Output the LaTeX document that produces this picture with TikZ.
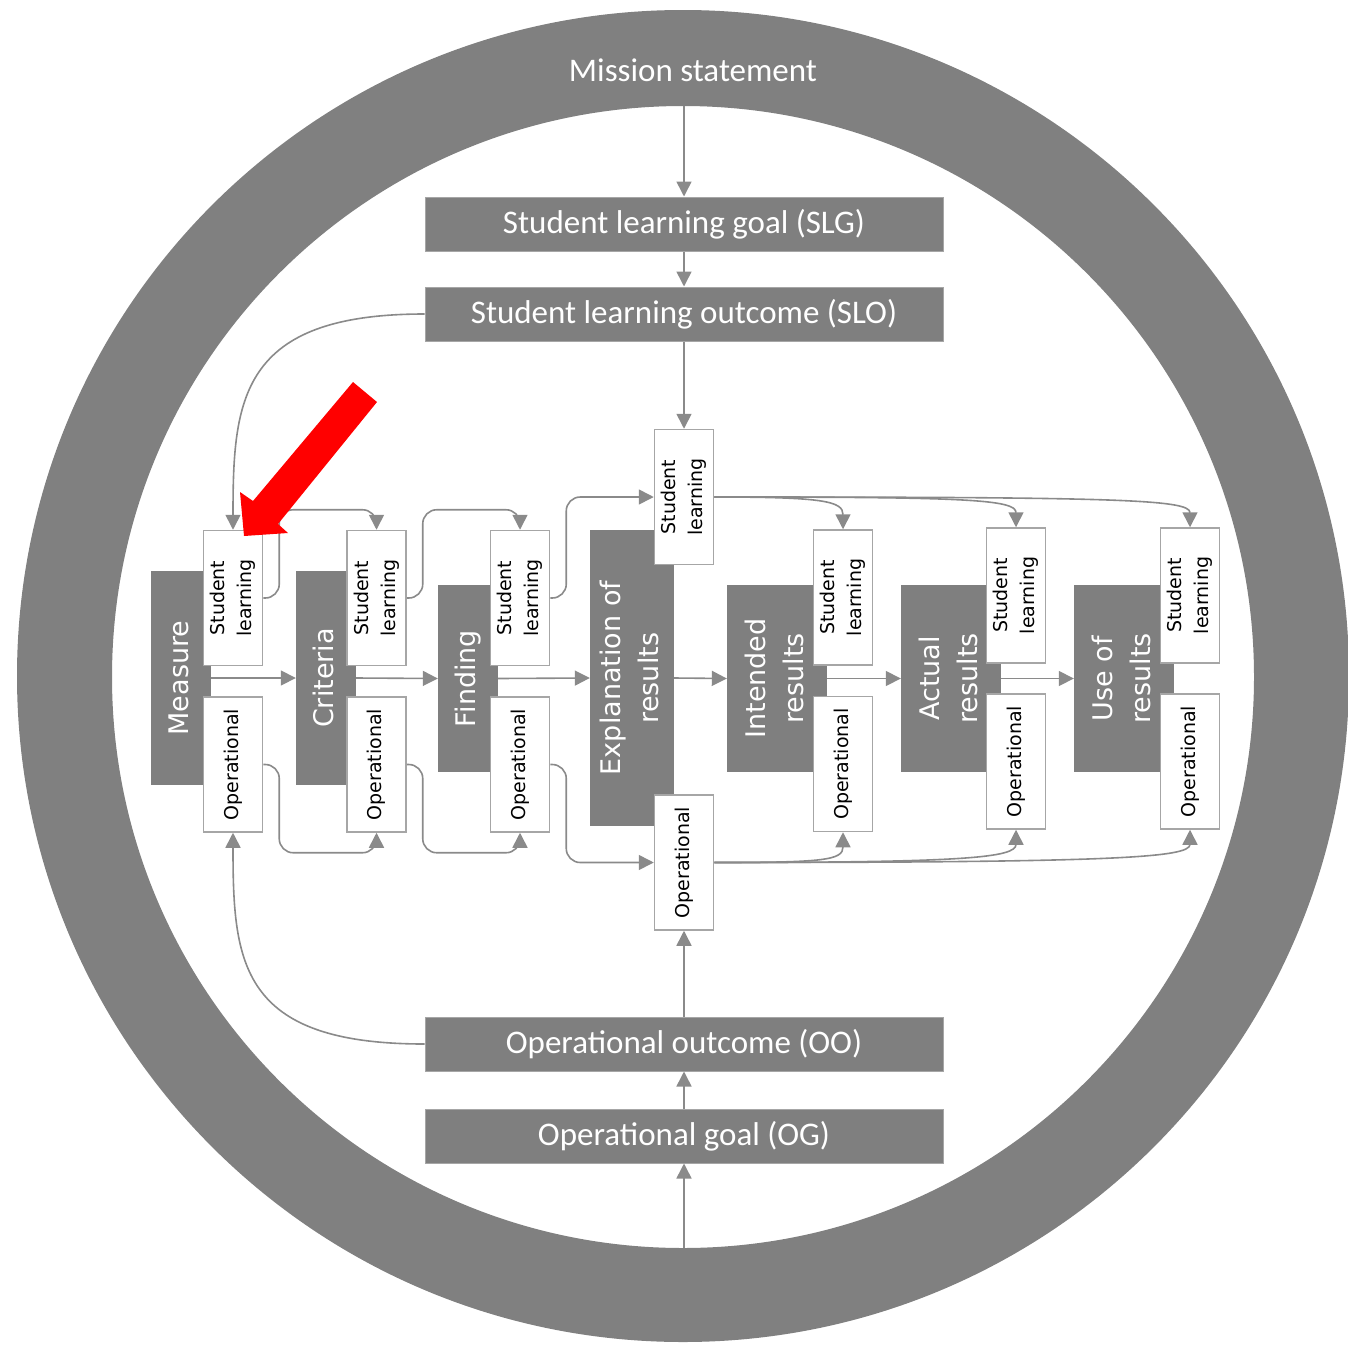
\documentclass[tikz,border=0pt]{standalone}
\usepackage{fontspec}
\setmainfont{Carlito}
\newfontfamily\dvs{DejaVu Sans}
\usetikzlibrary{arrows.meta}
\definecolor{ringgray}{HTML}{808080}
\definecolor{boxgray}{HTML}{7F7F7F}
\definecolor{linegray}{HTML}{8A8A8A}
\definecolor{edgegray}{HTML}{A6A6A6}
\newcommand{\vlab}[1]{\rotatebox{90}{\begin{tabular}{@{}c@{}}#1\end{tabular}}}
\begin{document}
\begin{tikzpicture}[x=1pt,y=-1pt,
  hbox/.style={fill=boxgray, draw=edgegray, line width=1pt, minimum width=518pt, minimum height=54pt, inner sep=0pt, text=white, font=\fontsize{33}{40}\selectfont},
  gbox/.style={fill=boxgray, inner sep=0pt, text=white, font=\dvs\fontsize{27}{38}\selectfont},
  wbox/.style={fill=white, draw=edgegray, line width=1.5pt, minimum width=59pt, minimum height=135pt, inner sep=0pt, text=black, font=\dvs\fontsize{19}{27}\selectfont},
  arr/.style={draw=linegray, line width=1.6pt, -{Triangle[length=15pt,width=15pt]}},
  stepline/.style={arr, rounded corners=14pt},
]
\useasboundingbox (0,0) rectangle (1348,1349);
% ring
\fill[ringgray, even odd rule] (683,676) circle[radius=666pt] (683,677) circle[radius=571pt];
\node[text=white, font=\fontsize{33}{40}\selectfont] (ms) at (693,70) {Mission statement};
\coordinate (ringtop) at (684,106);
\coordinate (ringbot) at (684,1248);

% horizontal boxes
\node[hbox] (slg) at (684,224) {Student learning goal (SLG)};
\node[hbox] (slo) at (684,314) {Student learning outcome (SLO)};
\node[hbox] (oo) at (684,1044) {Operational outcome (OO)};
\node[hbox] (og) at (684,1136) {Operational goal (OG)};

% gray column boxes
\node[gbox, minimum width=60pt, minimum height=214pt] (meas) at (181,678) {\vlab{Measure}};
\node[gbox, minimum width=60pt, minimum height=214pt] (crit) at (326,678) {\vlab{Criteria}};
\node[gbox, minimum width=60pt, minimum height=187pt] (find) at (468,678.5) {\vlab{Finding}};
\node[gbox, minimum width=84pt, minimum height=296pt] (expl) at (632,678) {\vlab{Explanation of\\results}};
\node[gbox, minimum width=100pt, minimum height=187pt] (intd) at (777,678.5) {\vlab{Intended\\results}};
\node[gbox, minimum width=100pt, minimum height=187pt] (actl) at (951,678.5) {\vlab{Actual\\results}};
\node[gbox, minimum width=100pt, minimum height=187pt] (usex) at (1124,678.5) {\vlab{Use of\\results}};

% white boxes
\node[wbox] (m-sl) at (233,598) {\vlab{Student\\learning}};
\node[wbox] (m-op) at (233,764.5) {\vlab{Operational}};
\node[wbox] (c-sl) at (376.5,598) {\vlab{Student\\learning}};
\node[wbox] (c-op) at (376.5,764.5) {\vlab{Operational}};
\node[wbox] (f-sl) at (520,598) {\vlab{Student\\learning}};
\node[wbox] (f-op) at (520,764.5) {\vlab{Operational}};
\node[wbox] (x-sl) at (684,497) {\vlab{Student\\learning}};
\node[wbox] (x-op) at (684,862.5) {\vlab{Operational}};
\node[wbox] (i-sl) at (843,597.5) {\vlab{Student\\learning}};
\node[wbox] (i-op) at (843,764) {\vlab{Operational}};
\node[wbox] (a-sl) at (1016,595.5) {\vlab{Student\\learning}};
\node[wbox] (a-op) at (1016,761.5) {\vlab{Operational}};
\node[wbox] (u-sl) at (1190,595.5) {\vlab{Student\\learning}};
\node[wbox] (u-op) at (1190,761.5) {\vlab{Operational}};

% vertical arrows
\draw[arr] (ringtop) -- (slg.north);
\draw[arr] (slg.south) -- (slo.north);
\draw[arr] (slo.south) -- (x-sl.north);
\draw[arr] (ringbot) -- (og.south);
\draw[arr] (og.north) -- (oo.south);
\draw[arr] (oo.north) -- (x-op.south);

% curves from SLO / OO
\draw[arr] (slo.west) .. controls +(-185,0) and +(0,-130) .. (m-sl.north);
\draw[arr] (oo.west) .. controls +(-185,0) and +(0,130) .. (m-op.south);

% horizontal chain
\draw[arr] (meas.east) -- (crit.west);
\draw[arr] (crit.east) -- (find.west);
\draw[arr] (find.east) -- (expl.west);
\draw[arr] (expl.east) -- (intd.west);
\draw[arr] (intd.east) -- (actl.west);
\draw[arr] (actl.east) -- (usex.west);

% student learning row
\draw[stepline] (m-sl.east) -- ++(16,0) |- ([yshift=20pt]c-sl.north) -- (c-sl.north);
\draw[stepline] (c-sl.east) -- ++(16,0) |- ([yshift=20pt]f-sl.north) -- (f-sl.north);
\draw[stepline] (f-sl.east) -- ++(16,0) |- (x-sl.west);
\draw[arr] (x-sl.east) .. controls +(110,0) and +(0,-28) .. (i-sl.north);
\draw[arr] (x-sl.east) .. controls +(250,0) and +(0,-28) .. (a-sl.north);
\draw[arr] (x-sl.east) .. controls +(400,0) and +(0,-28) .. (u-sl.north);

% operational row
\draw[stepline] (m-op.east) -- ++(16,0) |- ([yshift=-20pt]c-op.south) -- (c-op.south);
\draw[stepline] (c-op.east) -- ++(16,0) |- ([yshift=-20pt]f-op.south) -- (f-op.south);
\draw[stepline] (f-op.east) -- ++(16,0) |- (x-op.west);
\draw[arr] (x-op.east) .. controls +(110,0) and +(0,28) .. (i-op.south);
\draw[arr] (x-op.east) .. controls +(250,0) and +(0,28) .. (a-op.south);
\draw[arr] (x-op.east) .. controls +(400,0) and +(0,28) .. (u-op.south);

% red pointer arrow
\fill[red] (353,382) -- (377,402) -- (278,524) -- (288,533) -- (244,536) -- (240,492) -- (253,501) -- cycle;
\end{tikzpicture}
\end{document}
